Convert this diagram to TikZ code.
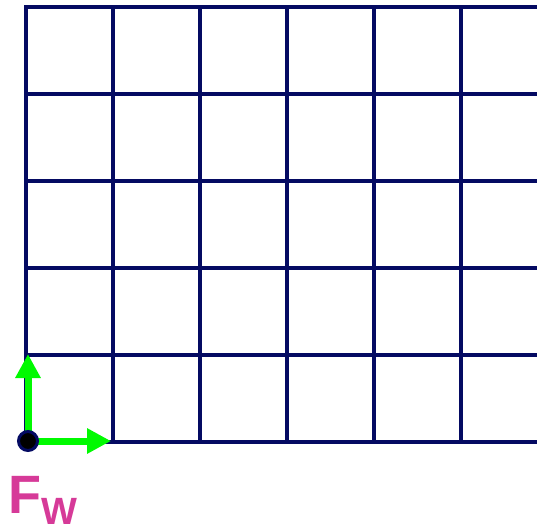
\documentclass[tikz,border=0pt]{standalone}
\usepackage{fontspec}
\setmainfont{Liberation Sans}
\usetikzlibrary{arrows.meta}
\definecolor{gridnavy}{RGB}{4,10,98}
\definecolor{axisgreen}{RGB}{0,250,0}
\definecolor{framepink}{RGB}{214,58,152}
\tikzset{
  gridline/.style={draw=gridnavy,line width=3.8,line cap=rect},
  axisline/.style={draw=axisgreen,line width=7,-{Triangle[length=24,width=24]}},
}
\begin{document}
\begin{tikzpicture}[x=1pt,y=-1pt]
\useasboundingbox (0,0) rectangle (537,530);
\coordinate (O) at (28,441);
\coordinate (X) at (111,441);
\coordinate (Y) at (28,354);
% grid
\foreach \k in {0,...,5}
  \draw[gridline] (26,{7+87*\k}) -- (537,{7+87*\k});
\foreach \k in {0,...,5}
  \draw[gridline] ({26+87*\k},7) -- ({26+87*\k},441);
% frame axes
\draw[axisline] (O) -- (X);
\draw[axisline] (O) -- (Y);
\node[circle,fill=black,draw=gridnavy,line width=3,minimum size=19,inner sep=0] (origin) at (O) {};
\node[anchor=base west,inner sep=0,text=framepink,font=\bfseries] (fw) at (8,513)
  {\fontsize{54}{54}\selectfont F\fontsize{38}{38}\selectfont\raisebox{-11pt}{W}};
\end{tikzpicture}
\end{document}
